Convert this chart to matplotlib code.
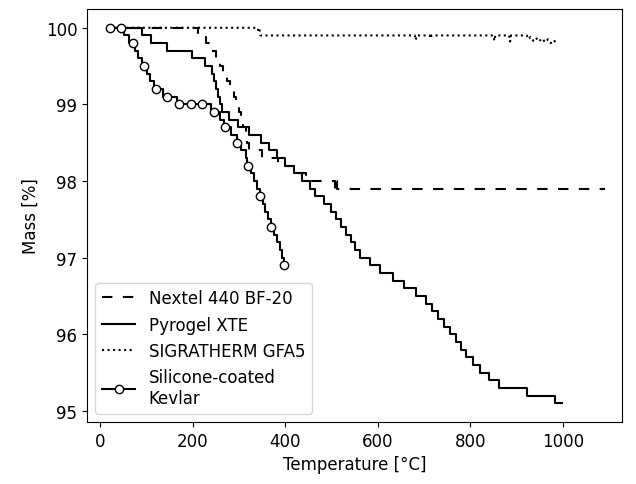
import numpy as np
import matplotlib.pyplot as plt
from matplotlib.lines import Line2D

# Nextel 440 BF-20 (step breakpoints: temperature, mass)
nextel_T = [20, 212, 228, 240, 250, 258, 266, 274, 281, 288, 294, 299, 304, 309, 314,
            318, 322, 350, 385, 418, 445, 508, 510, 512, 1092]
nextel_m = [100.0, 99.9, 99.8, 99.7, 99.6, 99.5, 99.4, 99.3, 99.2, 99.1, 99.0, 98.9, 98.8,
            98.7, 98.6, 98.5, 98.4, 98.3, 98.2, 98.1, 98.0, 97.9, 98.0, 97.9, 97.9]

# Pyrogel XTE
pyrogel_T = [25, 89, 110, 144, 197, 227, 242, 246, 250, 254, 258, 264, 278, 298, 322, 347,
             364, 382, 400, 418, 436, 453, 463, 483, 498, 509, 520, 531, 541, 551, 562, 582,
             604, 632, 657, 683, 704, 718, 731, 744, 756, 768, 779, 790, 805, 821, 840, 862,
             923, 984, 998]
pyrogel_m = [100.0, 99.9, 99.8, 99.7, 99.6, 99.5, 99.4, 99.3, 99.2, 99.1, 99.0, 98.9, 98.8,
             98.7, 98.6, 98.5, 98.4, 98.3, 98.2, 98.1, 98.0, 97.9, 97.8, 97.7, 97.6, 97.5,
             97.4, 97.3, 97.2, 97.1, 97.0, 96.9, 96.8, 96.7, 96.6, 96.5, 96.4, 96.3, 96.2,
             96.1, 96.0, 95.9, 95.8, 95.7, 95.6, 95.5, 95.4, 95.3, 95.2, 95.1, 95.1]

# SIGRATHERM GFA5
sigra_T = [20, 340, 342, 344, 346, 680, 682, 684, 712, 714, 716, 850, 852, 854, 884, 886,
           888, 922, 926, 930, 936, 942, 948, 955, 962, 968, 974, 980, 986, 990]
sigra_m = [100.0, 100.0, 99.95, 99.98, 99.9, 99.9, 99.84, 99.9, 99.9, 99.86, 99.9, 99.9,
           99.83, 99.9, 99.9, 99.82, 99.9, 99.9, 99.85, 99.88, 99.83, 99.87, 99.82, 99.86,
           99.81, 99.85, 99.8, 99.84, 99.8, 99.8]

# Silicone-coated Kevlar
kevlar_T = [20, 50, 62, 75, 82, 90, 100, 108, 116, 135, 165, 240, 258, 268, 283, 295, 305,
            314, 318, 326, 333, 339, 345, 351, 357, 363, 370, 376, 382, 388, 393, 398, 400]
kevlar_m = [100.0, 99.9, 99.8, 99.7, 99.6, 99.5, 99.4, 99.3, 99.2, 99.1, 99.0, 98.9, 98.8,
            98.7, 98.6, 98.5, 98.4, 98.3, 98.2, 98.1, 98.0, 97.9, 97.8, 97.7, 97.6, 97.5,
            97.4, 97.3, 97.2, 97.1, 97.0, 96.9, 96.9]
kevlar_mark_T = [20, 45, 70, 95, 120, 145, 170, 195, 220, 245, 270, 295, 320, 345, 370, 398]
kevlar_mark_m = [100.0, 100.0, 99.8, 99.5, 99.2, 99.1, 99.0, 99.0, 99.0, 98.9, 98.7, 98.5,
                 98.2, 97.8, 97.4, 96.9]

plt.rcParams['font.size'] = 12

fig = plt.figure(figsize=(6.36, 4.85), dpi=100)
ax = fig.add_axes([87 / 636, 1 - 423 / 485, 535 / 636, 413 / 485])

lw = 1.5
ax.plot(nextel_T, nextel_m, color='k', linestyle=(0, (5, 5)), lw=lw, drawstyle='steps-post')
ax.plot(pyrogel_T, pyrogel_m, color='k', linestyle='-', lw=lw, drawstyle='steps-post')
ax.plot(sigra_T, sigra_m, color='k', linestyle=':', lw=lw)
ax.plot(kevlar_T, kevlar_m, color='k', linestyle='-', lw=lw, drawstyle='steps-post')
ax.plot(kevlar_mark_T, kevlar_mark_m, color='k', linestyle='none', marker='o',
        markerfacecolor='white', markersize=6)

ax.set_xlim(-29, 1128)
ax.set_ylim(94.855, 100.245)
ax.set_xticks([0, 200, 400, 600, 800, 1000])
ax.set_yticks([95, 96, 97, 98, 99, 100])
ax.set_xlabel('Temperature [°C]')
ax.set_ylabel('Mass [%]')

handles = [
    Line2D([], [], color='k', linestyle=(0, (5, 5)), lw=lw),
    Line2D([], [], color='k', linestyle='-', lw=lw),
    Line2D([], [], color='k', linestyle=':', lw=lw),
    Line2D([], [], color='k', linestyle='-', lw=lw, marker='o', markerfacecolor='white', markersize=6),
]
labels = ['Nextel 440 BF-20', 'Pyrogel XTE', 'SIGRATHERM GFA5', 'Silicone-coated\nKevlar']
ax.legend(handles, labels, loc='lower left')

fig.savefig('out.png', dpi=100)
